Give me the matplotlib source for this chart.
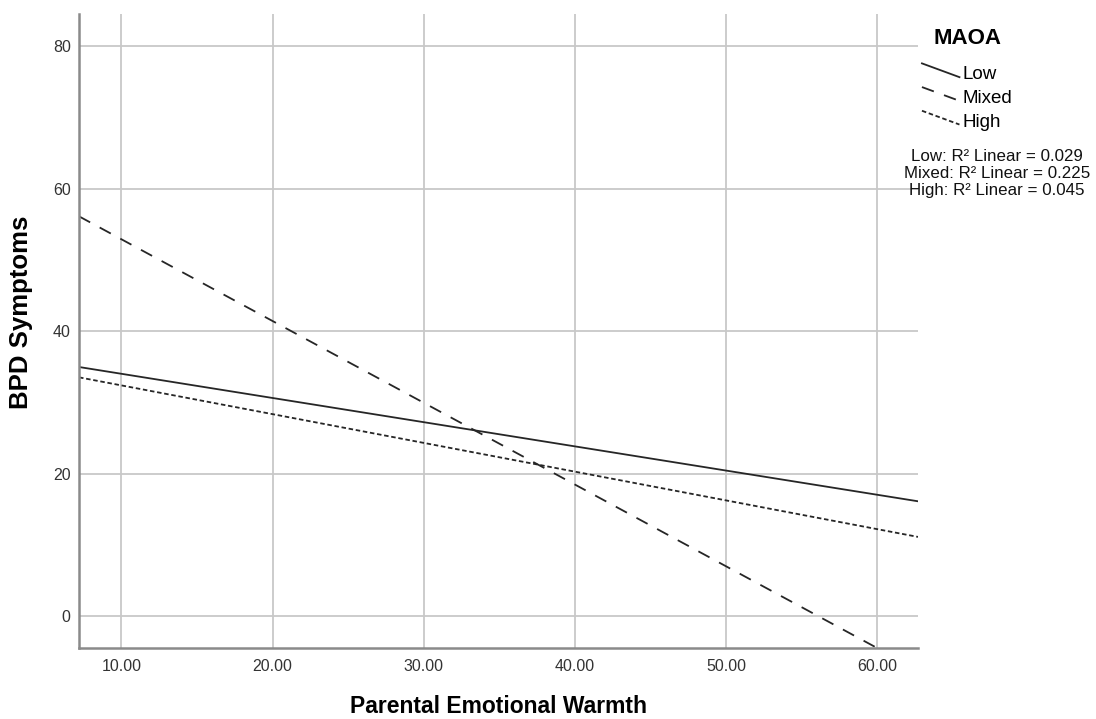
import matplotlib.pyplot as plt
from matplotlib.legend_handler import HandlerLine2D
from matplotlib.lines import Line2D

# fit line end points
x_ends = [7.2, 62.7]
low_y = [34.95, 16.1]
mixed_y = [56.1, -7.6]
high_y = [33.5, 11.1]

groups = ["Low", "Mixed", "High"]
r2_values = [0.029, 0.225, 0.045]

x_ticks = [10, 20, 30, 40, 50, 60]
y_ticks = [0, 20, 40, 60, 80]

plt.rcParams['font.family'] = ['Liberation Sans', 'DejaVu Sans']


class SlantHandler(HandlerLine2D):
    # SPSS style legend sample: a short line going down to the right
    def create_artists(self, legend, orig_handle, xdescent, ydescent,
                       width, height, fontsize, trans):
        line = Line2D([-xdescent, -xdescent + width],
                      [height * 1.2, height * 0.15])
        self.update_prop(line, orig_handle, legend)
        line.set_transform(trans)
        return [line]


fig = plt.figure(figsize=(10.96, 7.19), dpi=100)
ax = fig.add_axes([0.0721, 0.0987, 0.7655, 0.8818])

ax.plot(x_ends, low_y, color='#262626', lw=1.3, ls='-', label=groups[0])
ax.plot(x_ends, mixed_y, color='#262626', lw=1.3, ls=(0, (7, 6)), label=groups[1])
ax.plot(x_ends, high_y, color='#262626', lw=1.3, ls=(0, (2.5, 1.5)), label=groups[2])

ax.set_xlim(7.2, 62.7)
ax.set_ylim(-4.5, 84.5)
ax.set_xticks(x_ticks)
ax.set_xticklabels([f"{t:.2f}" for t in x_ticks])
ax.set_yticks(y_ticks)
ax.tick_params(length=0, labelsize=11.5, colors='#333333')
ax.tick_params(axis='x', pad=8)
ax.tick_params(axis='y', pad=6)
ax.grid(True, color='#c8c8c8', lw=1.3)
ax.set_axisbelow(True)

for s in ['top', 'right']:
    ax.spines[s].set_visible(False)
for s in ['left', 'bottom']:
    ax.spines[s].set_color('#8a8a8a')
    ax.spines[s].set_linewidth(1.8)

fig.text(0.455, 0.018, "Parental Emotional Warmth", ha='center', va='center',
         fontsize=16.5, fontweight='bold')
fig.text(0.019, 0.565, "BPD Symptoms", ha='center', va='center',
         rotation=90, fontsize=18.5, fontweight='bold')

# legend title drawn on its own so the gap under it matches
fig.text(0.8825, 0.947, "MAOA", ha='center', va='center',
         fontsize=16, fontweight='bold')
leg = ax.legend(loc='upper left', bbox_to_anchor=(0.8412, 0.9082),
                bbox_transform=fig.transFigure, frameon=False,
                fontsize=13.5, handlelength=2.0, handletextpad=0.15,
                labelspacing=0.35, borderpad=0, borderaxespad=0,
                handler_map={Line2D: SlantHandler()})

for i, (g, v) in enumerate(zip(groups, r2_values)):
    fig.text(0.9097, 0.7830 - i * 0.0237, f"{g}: R² Linear = {v:.3f}",
             ha='center', va='center', fontsize=12.2, color='#111111')

fig.savefig("out.png", dpi=100)
